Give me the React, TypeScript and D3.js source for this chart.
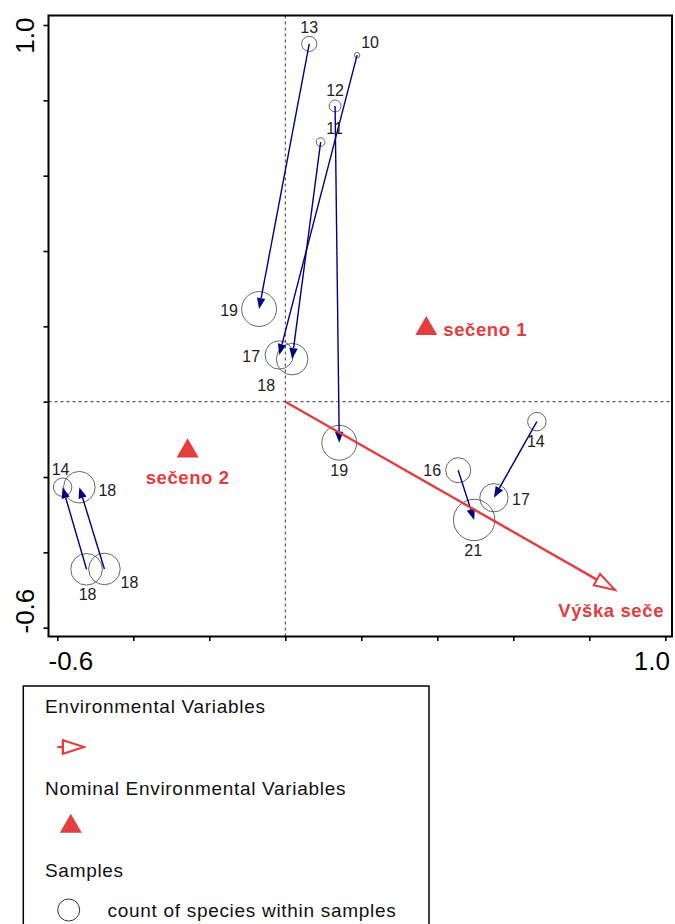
import React, { FC } from 'react';
import * as d3 from 'd3';

// sample scores (two times per plot, arrows show the shift)
const sampleNames = ['13', '10', '12', '11', '19', '17', '18', '19', '14', '16', '17', '21', '14', '18', '18', '18'];
const sampleX = [0.063, 0.189, 0.131, 0.093, -0.069, -0.016, 0.018, 0.142, 0.662, 0.455, 0.549, 0.497, -0.586, -0.542, -0.523, -0.476];
const sampleY = [0.95, 0.92, 0.785, 0.689, 0.246, 0.124, 0.113, -0.109, -0.053, -0.182, -0.255, -0.314, -0.227, -0.227, -0.445, -0.444];
const speciesCount = [13, 10, 12, 11, 19, 17, 18, 19, 14, 16, 17, 21, 14, 18, 18, 18];
const shiftFrom = [0, 1, 3, 2, 8, 9, 14, 15];
const shiftTo = [4, 5, 6, 7, 10, 11, 12, 13];

const envNames = ['Výška seče'];
const envX = [0.868];
const envY = [-0.5];

const nominalNames = ['sečeno 1', 'sečeno 2'];
const nominalX = [0.371, -0.257];
const nominalY = [0.198, -0.127];

const axisTicks = [-0.6, -0.4, -0.2, 0, 0.2, 0.4, 0.6, 0.8, 1.0];
const axisEnds = ['-0.6', '1.0'];

const legendTitles = ['Environmental Variables', 'Nominal Environmental Variables', 'Samples'];
const legendSampleText = 'count of species within samples';

// label placement around each sample circle (px)
const labelOffsets: [number, number][] = [
  [0, -17], [13, -13], [0, -16], [14, -14], [-30, 1], [-28, 1], [-26, 26], [0, 27],
  [-1, 20], [-26, 0], [27, 1], [-1, 30], [-2, -18], [28, 3], [1, 25], [25, 13],
];

const W = 675;
const H = 924;
const RED = '#e23d3f';
const NAVY = '#000080';
const FONT = "'Liberation Sans', Arial, sans-serif";

const App: FC = () => (
  <div
    style={{ position: 'absolute', left: 0, top: 0 }}
    ref={(elem) => {
      if (!elem) {
        return;
      }
      const svg = chart();
      if (!svg) {
        return;
      }
      elem.innerHTML = '';
      elem.appendChild(svg);
    }}
  />
);

const chart = () => {
  const frame = { left: 48.5, right: 672, top: 15.5, bottom: 636.5 };
  const x = d3.scaleLinear().domain([-0.6, 1.0]).range([57.3, 665.3]);
  const y = d3.scaleLinear().domain([-0.6, 1.0]).range([627.7, 25]);
  const r = d3.scaleLinear().domain([10, 21]).range([2.7, 20.7]);

  const svg = d3
    .create('svg')
    .attr('width', W)
    .attr('height', H)
    .attr('viewBox', `0 0 ${W} ${H}`)
    .style('display', 'block')
    .style('font-family', FONT);

  svg.append('rect').attr('width', W).attr('height', H).attr('fill', '#fff');

  // zero lines
  const zero = svg.append('g').attr('stroke', '#333').attr('stroke-width', 1).attr('stroke-dasharray', '3,3');
  zero.append('line').attr('x1', x(0)).attr('x2', x(0)).attr('y1', frame.top).attr('y2', frame.bottom);
  zero.append('line').attr('x1', frame.left).attr('x2', frame.right).attr('y1', y(0)).attr('y2', y(0));

  // axes
  const xAxis = svg
    .append('g')
    .attr('transform', `translate(0,${frame.bottom})`)
    .call(d3.axisBottom(x).tickValues(axisTicks).tickSize(4.5).tickFormat(() => ''));
  const yAxis = svg
    .append('g')
    .attr('transform', `translate(${frame.left},0)`)
    .call(d3.axisLeft(y).tickValues(axisTicks).tickSize(5).tickFormat(() => ''));
  [xAxis, yAxis].forEach((g) => {
    g.select('.domain').remove();
    g.selectAll('line').attr('stroke', '#000').attr('stroke-width', 1.6);
  });

  svg
    .append('rect')
    .attr('x', frame.left)
    .attr('y', frame.top)
    .attr('width', frame.right - frame.left)
    .attr('height', frame.bottom - frame.top)
    .attr('fill', 'none')
    .attr('stroke', '#000')
    .attr('stroke-width', 2);

  const tickFont = 26;
  svg
    .append('text')
    .attr('x', frame.left)
    .attr('y', 669.5)
    .attr('font-size', tickFont)
    .text(axisEnds[0]);
  svg
    .append('text')
    .attr('x', frame.right - 2)
    .attr('y', 669.5)
    .attr('text-anchor', 'end')
    .attr('font-size', tickFont)
    .text(axisEnds[1]);
  svg
    .append('text')
    .attr('transform', `translate(33.5,${frame.bottom - 3}) rotate(-90)`)
    .attr('font-size', tickFont)
    .text(axisEnds[0]);
  svg
    .append('text')
    .attr('transform', `translate(33.5,${frame.top + 2}) rotate(-90)`)
    .attr('text-anchor', 'end')
    .attr('font-size', tickFont)
    .text(axisEnds[1]);

  // sample circles
  svg
    .append('g')
    .selectAll('circle')
    .data(sampleNames)
    .join('circle')
    .attr('cx', (d, i) => x(sampleX[i]))
    .attr('cy', (d, i) => y(sampleY[i]))
    .attr('r', (d, i) => r(speciesCount[i]))
    .attr('fill', 'none')
    .attr('stroke', '#555')
    .attr('stroke-width', 0.9);

  // shift arrows
  const shifts = svg.append('g').attr('fill', NAVY).attr('stroke', NAVY);
  shiftFrom.forEach((from, k) => {
    const to = shiftTo[k];
    const x1 = x(sampleX[from]);
    const y1 = y(sampleY[from]);
    const x2 = x(sampleX[to]);
    const y2 = y(sampleY[to]);
    const len = Math.hypot(x2 - x1, y2 - y1);
    const ux = (x2 - x1) / len;
    const uy = (y2 - y1) / len;
    const head = 11;
    const half = 4.2;
    const bx = x2 - ux * head;
    const by = y2 - uy * head;
    shifts
      .append('line')
      .attr('x1', x1)
      .attr('y1', y1)
      .attr('x2', bx)
      .attr('y2', by)
      .attr('stroke-width', 1.4);
    shifts
      .append('path')
      .attr('stroke', 'none')
      .attr(
        'd',
        `M${x2},${y2}L${bx - uy * half},${by + ux * half}L${bx + uy * half},${by - ux * half}Z`,
      );
  });

  // sample labels
  svg
    .append('g')
    .attr('font-size', 16)
    .attr('fill', '#222')
    .attr('text-anchor', 'middle')
    .selectAll('text')
    .data(sampleNames)
    .join('text')
    .attr('x', (d, i) => x(sampleX[i]) + labelOffsets[i][0])
    .attr('y', (d, i) => y(sampleY[i]) + labelOffsets[i][1])
    .attr('dy', '0.36em')
    .text((d) => d);

  // environmental variable arrow
  const openArrow = (
    g: d3.Selection<SVGGElement, undefined, null, undefined>,
    x1: number,
    y1: number,
    x2: number,
    y2: number,
    head: number,
    half: number,
    width: number,
  ) => {
    const len = Math.hypot(x2 - x1, y2 - y1);
    const ux = (x2 - x1) / len;
    const uy = (y2 - y1) / len;
    const bx = x2 - ux * head;
    const by = y2 - uy * head;
    g.append('line')
      .attr('x1', x1)
      .attr('y1', y1)
      .attr('x2', bx)
      .attr('y2', by)
      .attr('stroke', RED)
      .attr('stroke-width', width);
    g.append('path')
      .attr('d', `M${x2},${y2}L${bx - uy * half},${by + ux * half}L${bx + uy * half},${by - ux * half}Z`)
      .attr('fill', '#fff')
      .attr('stroke', RED)
      .attr('stroke-width', 2)
      .attr('stroke-linejoin', 'miter');
  };

  const env = svg.append('g') as unknown as d3.Selection<SVGGElement, undefined, null, undefined>;
  envNames.forEach((name, i) => {
    openArrow(env, x(0), y(0), x(envX[i]), y(envY[i]), 21, 6.5, 2.4);
    env
      .append('text')
      .attr('x', x(envX[i]) - 4)
      .attr('y', y(envY[i]) + 27)
      .attr('text-anchor', 'middle')
      .attr('font-size', 18.5)
      .attr('font-weight', 'bold')
      .attr('letter-spacing', 0.6)
      .attr('fill', RED)
      .text(name);
  });

  // nominal variables
  const tri = d3.symbol().type(d3.symbolTriangle).size(210);
  const nominal = svg.append('g').attr('fill', RED);
  nominalNames.forEach((name, i) => {
    nominal
      .append('path')
      .attr('transform', `translate(${x(nominalX[i])},${y(nominalY[i]) + 1.5})`)
      .attr('d', tri() || '');
    const below = i === 1;
    nominal
      .append('text')
      .attr('x', below ? x(nominalX[i]) : x(nominalX[i]) + 17)
      .attr('y', below ? y(nominalY[i]) + 34.5 : y(nominalY[i]) + 8.7)
      .attr('text-anchor', below ? 'middle' : 'start')
      .attr('font-size', 18.5)
      .attr('font-weight', 'bold')
      .attr('letter-spacing', 0.6)
      .text(name);
  });

  // legend
  const legend = svg.append('g');
  legend
    .append('rect')
    .attr('x', 23.3)
    .attr('y', 686)
    .attr('width', 405.7)
    .attr('height', 260)
    .attr('fill', '#fff')
    .attr('stroke', '#000')
    .attr('stroke-width', 1.5);
  legend
    .selectAll('text.title')
    .data(legendTitles)
    .join('text')
    .attr('class', 'title')
    .attr('x', 45)
    .attr('y', (d, i) => 713.3 + i * 82)
    .attr('font-size', 19)
    .attr('letter-spacing', 0.7)
    .attr('fill', '#111')
    .text((d) => d);
  const legArrow = legend.append('g') as unknown as d3.Selection<SVGGElement, undefined, null, undefined>;
  openArrow(legArrow, 57.3, 747, 84, 747, 21, 6.8, 2);
  legArrow
    .append('line')
    .attr('x1', 62.7)
    .attr('x2', 62.7)
    .attr('y1', 740.5)
    .attr('y2', 753.5)
    .attr('stroke', RED)
    .attr('stroke-width', 2);
  legend
    .append('path')
    .attr('transform', 'translate(70.8,826.5)')
    .attr('d', tri() || '')
    .attr('fill', RED);
  legend
    .append('circle')
    .attr('cx', 68.7)
    .attr('cy', 910)
    .attr('r', 11)
    .attr('fill', 'none')
    .attr('stroke', '#333')
    .attr('stroke-width', 1);
  legend
    .append('text')
    .attr('x', 107.5)
    .attr('y', 917)
    .attr('font-size', 19)
    .attr('letter-spacing', 0.7)
    .attr('fill', '#111')
    .text(legendSampleText);

  return svg.node();
};

export default App;
